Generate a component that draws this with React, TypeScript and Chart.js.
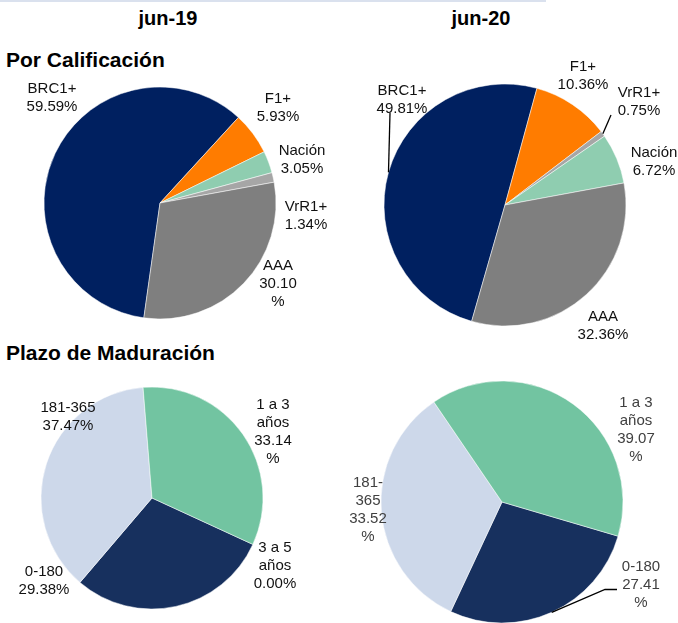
import React, { useEffect, useRef } from "react";
import { Chart, registerables } from "chart.js";

Chart.register(...registerables);

const W = 678;
const H = 623;

// ---------- data ----------
const periodLabels = ["jun-19", "jun-20"];
const sectionTitles = ["Por Calificación", "Plazo de Maduración"];

const cal19Categories = ["BRC1+", "F1+", "Nación", "VrR1+", "AAA"];
const cal19Values = [59.59, 5.93, 3.05, 1.34, 30.1];

const cal20Categories = ["BRC1+", "F1+", "VrR1+", "Nación", "AAA"];
const cal20Values = [49.81, 10.36, 0.75, 6.72, 32.36];

const plazo19Categories = ["0-180", "181-365", "1 a 3 años", "3 a 5 años"];
const plazo19Values = [29.38, 37.47, 33.14, 0.0];

const plazo20Categories = ["0-180", "181-365", "1 a 3 años"];
const plazo20Values = [27.41, 33.52, 39.07];

// ---------- styles ----------
const categoryColors: Record<string, string> = {
  "BRC1+": "#002060",
  "F1+": "#ff7c00",
  "Nación": "#8fcdb0",
  "VrR1+": "#a6a6a6",
  "AAA": "#7f7f7f",
  "0-180": "#17305e",
  "181-365": "#cdd8ea",
  "1 a 3 años": "#72c4a1",
  "3 a 5 años": "#5b7fb5",
};

const FONT = '"Liberation Sans", Arial, Helvetica, sans-serif';
const LABEL_FONT = `15px ${FONT}`;
const LINE_H = 18;

type Leader = { sx: number; sy: number; ex?: number; ey?: number };
type LabelLayout = { dx: number; dy: number; wrap?: number; leader?: Leader };

interface PieSpec {
  categories: string[];
  values: number[];
  cx: number;
  cy: number;
  r: number;
  rotation: number;
  textColor: string;
  labels: LabelLayout[];
}

const pies: PieSpec[] = [
  {
    categories: cal19Categories,
    values: cal19Values,
    cx: 160,
    cy: 203,
    r: 116,
    rotation: 188,
    textColor: "#111111",
    labels: [
      { dx: -108, dy: -105 },
      { dx: 118, dy: -95 },
      { dx: 142, dy: -43 },
      { dx: 146, dy: 13 },
      { dx: 118, dy: 81, wrap: 45 },
    ],
  },
  {
    categories: cal20Categories,
    values: cal20Values,
    cx: 505,
    cy: 205,
    r: 121,
    rotation: 196,
    textColor: "#111111",
    labels: [
      { dx: -103, dy: -105, leader: { sx: -12, sy: 13 } },
      { dx: 78, dy: -129 },
      { dx: 134, dy: -103, leader: { sx: -28, sy: 13 } },
      { dx: 149, dy: -43 },
      { dx: 98, dy: 121 },
    ],
  },
  {
    categories: plazo19Categories,
    values: plazo19Values,
    cx: 152,
    cy: 498,
    r: 111,
    rotation: 114.7,
    textColor: "#111111",
    labels: [
      { dx: -108, dy: 83 },
      { dx: -84, dy: -81 },
      { dx: 121, dy: -66, wrap: 45 },
      { dx: 123, dy: 68, wrap: 48 },
    ],
  },
  {
    categories: plazo20Categories,
    values: plazo20Values,
    cx: 502,
    cy: 502,
    r: 121,
    rotation: 106.4,
    textColor: "#404040",
    labels: [
      { dx: 139, dy: 83, wrap: 45, leader: { sx: -24, sy: 4.5, ex: -36, ey: 4.5 } },
      { dx: -134, dy: 8, wrap: 45 },
      { dx: 134, dy: -72, wrap: 45 },
    ],
  },
];

function wrapText(ctx: CanvasRenderingContext2D, text: string, maxW?: number): string[] {
  if (!maxW) return [text];
  const pieces: string[] = [];
  let cur = "";
  for (const ch of text) {
    if (ch === "%" && cur) {
      pieces.push(cur);
      cur = ch;
      continue;
    }
    cur += ch;
    if (ch === " " || ch === "-") {
      pieces.push(cur);
      cur = "";
    }
  }
  if (cur) pieces.push(cur);
  const lines: string[] = [];
  let line = "";
  for (const p of pieces) {
    const test = line + p;
    if (line && ctx.measureText(test.trimEnd()).width > maxW) {
      lines.push(line.trimEnd());
      line = p;
    } else {
      line = test;
    }
  }
  if (line) lines.push(line.trimEnd());
  return lines;
}

const pieLabelPlugin = {
  id: "pieLabels",
  afterDatasetsDraw(chart: any, _args: any, opts: any) {
    const spec: PieSpec = opts.spec;
    if (!spec) return;
    const ctx: CanvasRenderingContext2D = chart.ctx;
    const meta = chart.getDatasetMeta(0);
    ctx.save();
    ctx.font = LABEL_FONT;
    ctx.fillStyle = spec.textColor;
    ctx.textAlign = "center";
    ctx.textBaseline = "middle";
    meta.data.forEach((arc: any, i: number) => {
      const lay = spec.labels[i];
      if (!lay) return;
      const p = arc.getProps(["x", "y", "startAngle", "endAngle", "outerRadius"], true);
      const lx = p.x + lay.dx;
      const ly = p.y + lay.dy;
      const lines = [
        ...wrapText(ctx, spec.categories[i], lay.wrap),
        ...wrapText(ctx, spec.values[i].toFixed(2) + "%", lay.wrap),
      ];
      const top = ly - ((lines.length - 1) * LINE_H) / 2;
      lines.forEach((t, k) => ctx.fillText(t, lx, top + k * LINE_H));
      if (lay.leader) {
        const mid = (p.startAngle + p.endAngle) / 2;
        const endX = p.x + Math.cos(mid) * p.outerRadius;
        const endY = p.y + Math.sin(mid) * p.outerRadius;
        ctx.beginPath();
        ctx.strokeStyle = "#000000";
        ctx.lineWidth = 1.3;
        ctx.moveTo(lx + lay.leader.sx, ly + lay.leader.sy);
        if (lay.leader.ex !== undefined && lay.leader.ey !== undefined) {
          ctx.lineTo(lx + lay.leader.ex, ly + lay.leader.ey);
        }
        ctx.lineTo(endX, endY);
        ctx.stroke();
      }
    });
    ctx.restore();
  },
};

function PieCanvas({ spec }: { spec: PieSpec }) {
  const ref = useRef<HTMLCanvasElement | null>(null);
  useEffect(() => {
    if (!ref.current) return;
    const chart = new Chart(ref.current, {
      type: "pie",
      data: {
        labels: spec.categories,
        datasets: [
          {
            data: spec.values,
            backgroundColor: spec.categories.map((c) => categoryColors[c]),
            borderColor: "#ffffff",
            borderWidth: 0.5,
          },
        ],
      },
      options: {
        responsive: false,
        animation: false,
        rotation: spec.rotation,
        radius: spec.r,
        layout: {
          padding: {
            left: spec.cx - spec.r,
            top: spec.cy - spec.r,
            right: W - spec.cx - spec.r,
            bottom: H - spec.cy - spec.r,
          },
        },
        plugins: {
          legend: { display: false },
          tooltip: { enabled: false },
          pieLabels: { spec },
        } as any,
        events: [],
      } as any,
      plugins: [pieLabelPlugin],
    });
    return () => chart.destroy();
  }, [spec]);
  return (
    <canvas
      ref={ref}
      width={W}
      height={H}
      style={{ position: "absolute", left: 0, top: 0, width: W, height: H }}
    />
  );
}

export default function App() {
  const headStyle: React.CSSProperties = {
    position: "absolute",
    fontFamily: FONT,
    fontWeight: "bold",
    color: "#000",
    whiteSpace: "nowrap",
  };
  return (
    <div
      style={{
        position: "absolute",
        left: 0,
        top: 0,
        width: W,
        height: H,
        overflow: "hidden",
        background: "#ffffff",
      }}
    >
      <div style={{ position: "absolute", left: 0, top: 0, width: 546, height: 2, background: "#dae1ee" }} />
      <div style={{ ...headStyle, left: 108, top: 8, width: 120, textAlign: "center", fontSize: 20, lineHeight: "20px" }}>
        {periodLabels[0]}
      </div>
      <div style={{ ...headStyle, left: 421, top: 8, width: 120, textAlign: "center", fontSize: 20, lineHeight: "20px" }}>
        {periodLabels[1]}
      </div>
      <div style={{ ...headStyle, left: 6, top: 49, fontSize: 21, lineHeight: "21px" }}>{sectionTitles[0]}</div>
      <div style={{ ...headStyle, left: 6, top: 342, fontSize: 21, lineHeight: "21px" }}>{sectionTitles[1]}</div>
      {pies.map((p, i) => (
        <PieCanvas key={i} spec={p} />
      ))}
    </div>
  );
}
